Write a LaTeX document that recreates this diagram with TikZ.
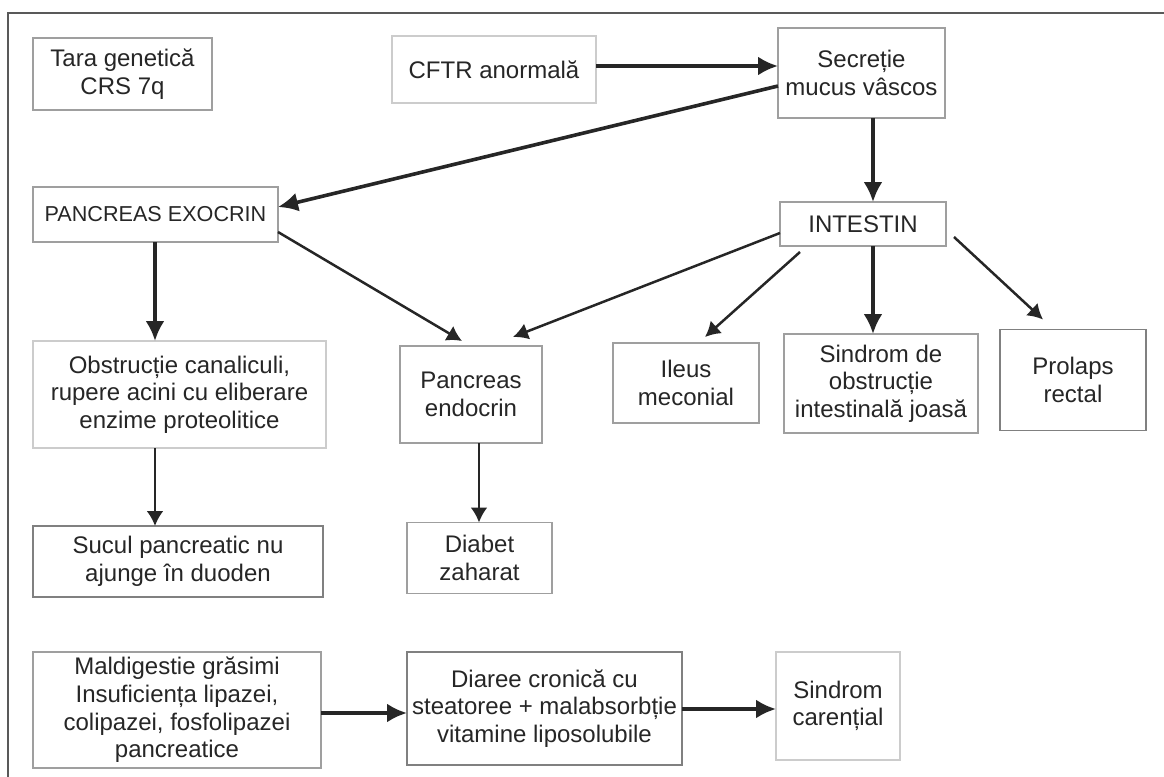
\documentclass[tikz,border=0pt]{standalone}
\usepackage{fontspec}
\setmainfont{Liberation Sans}
\usetikzlibrary{positioning,arrows.meta}

\begin{document}
\begin{tikzpicture}[x=0.5pt, y=-0.5pt,
		box/.style={draw=gray!75, line width=0.8pt, fill=white, align=center, inner sep=0pt, outer sep=0pt, text=black!85, font=\fontsize{12}{13.8}\selectfont},
		lightbox/.style={box, draw=gray!40},
		arr/.style={draw=black!85, line width=1.8pt, -{Latex[length=10pt,width=9.5pt]}},
		thinarr/.style={draw=black!85, line width=1.25pt, -{Latex[length=7.5pt,width=8.5pt]}}]
		\useasboundingbox (0,0) rectangle (1164,777);
		\draw[black!65, line width=1pt] (1164,13) -- (8,13) -- (8,777);
		\node[box, minimum width=89.5pt, minimum height=36pt] (tara) at (122.5,74) {Tara genetică\\CRS 7q};
		\node[lightbox, minimum width=102pt, minimum height=33.5pt] (cftr) at (494,69.5) {CFTR anormală};
		\node[box, minimum width=83.5pt, minimum height=45pt] (secr) at (861.5,73) {Secreție\\mucus vâscos};
		\node[box, minimum width=122.5pt, minimum height=27.5pt, font=\fontsize{10.8}{12.5}\selectfont] (exo) at (155.5,214.5) {PANCREAS EXOCRIN};
		\node[box, minimum width=83pt, minimum height=22pt] (intest) at (863,224) {INTESTIN};
		\node[lightbox, minimum width=146.5pt, minimum height=53.5pt] (obstr) at (179.5,394.5) {Obstrucție canaliculi,\\rupere acini cu eliberare\\enzime proteolitice};
		\node[box, minimum width=71pt, minimum height=48.5pt] (endo) at (471,394.5) {Pancreas\\endocrin};
		\node[box, minimum width=73pt, minimum height=40pt] (ileus) at (686,383) {Ileus\\meconial};
		\node[box, minimum width=97pt, minimum height=49.5pt] (sobstr) at (881,383.5) {Sindrom de\\obstrucție\\intestinală joasă};
		\node[box, draw=gray, minimum width=73pt, minimum height=50.5pt] (prolaps) at (1073,380) {Prolaps\\rectal};
		\node[box, draw=gray, minimum width=145pt, minimum height=35.5pt] (sucul) at (178,561.5) {Sucul pancreatic nu\\ajunge în duoden};
		\node[box, minimum width=72.5pt, minimum height=35.5pt] (diabet) at (479.5,558) {Diabet\\zaharat};
		\node[box, minimum width=144pt, minimum height=58pt] (maldig) at (177,710) {Maldigestie grăsimi\\Insuficiența lipazei,\\colipazei, fosfolipazei\\pancreatice};
		\node[box, draw=gray, minimum width=137.5pt, minimum height=56.5pt] (diaree) at (544.5,708.5) {Diaree cronică cu\\steatoree + malabsorbție\\vitamine liposolubile};
		\node[lightbox, minimum width=62pt, minimum height=54pt] (carent) at (838,706) {Sindrom\\carențial};
		\draw[arr] ([yshift=1.75pt]cftr.east) -- ([yshift=3.5pt]secr.west);
		\draw[arr] ([yshift=-6.5pt]secr.west) -- ([yshift=3.75pt]exo.east);
		\draw[arr] ([xshift=5.75pt]secr.south) -- ([xshift=5pt]intest.north);
		\draw[arr] ([xshift=-0.25pt]exo.south) -- ([xshift=-12.25pt]obstr.north);
		\draw[thinarr] ([yshift=-8.75pt]exo.east) -- ([xshift=-4.5pt,yshift=2.5pt]endo.north);
		\draw[thinarr] ([yshift=-4.5pt]intest.west) -- ([xshift=21pt,yshift=4.5pt]endo.north);
		\draw[thinarr] ([xshift=-31.5pt,yshift=-3pt]intest.south) -- ([xshift=9.5pt,yshift=3pt]ileus.north);
		\draw[arr] ([xshift=5pt]intest.south) -- ([xshift=-4pt]sobstr.north);
		\draw[thinarr] ([xshift=4pt,yshift=-6.5pt]intest.east) -- ([xshift=-15pt,yshift=5pt]prolaps.north);
		\draw[thinarr] ([xshift=-12.25pt]obstr.south) -- ([xshift=-11.5pt]sucul.north);
		\draw[thinarr] ([xshift=4pt]endo.south) -- ([xshift=-0.25pt]diabet.north);
		\draw[arr] ([yshift=-1.5pt]maldig.east) -- ([yshift=-2.25pt]diaree.west);
		\draw[arr] ([yshift=-0.25pt]diaree.east) -- ([yshift=-1.5pt]carent.west);
	\end{tikzpicture}
\end{document}
